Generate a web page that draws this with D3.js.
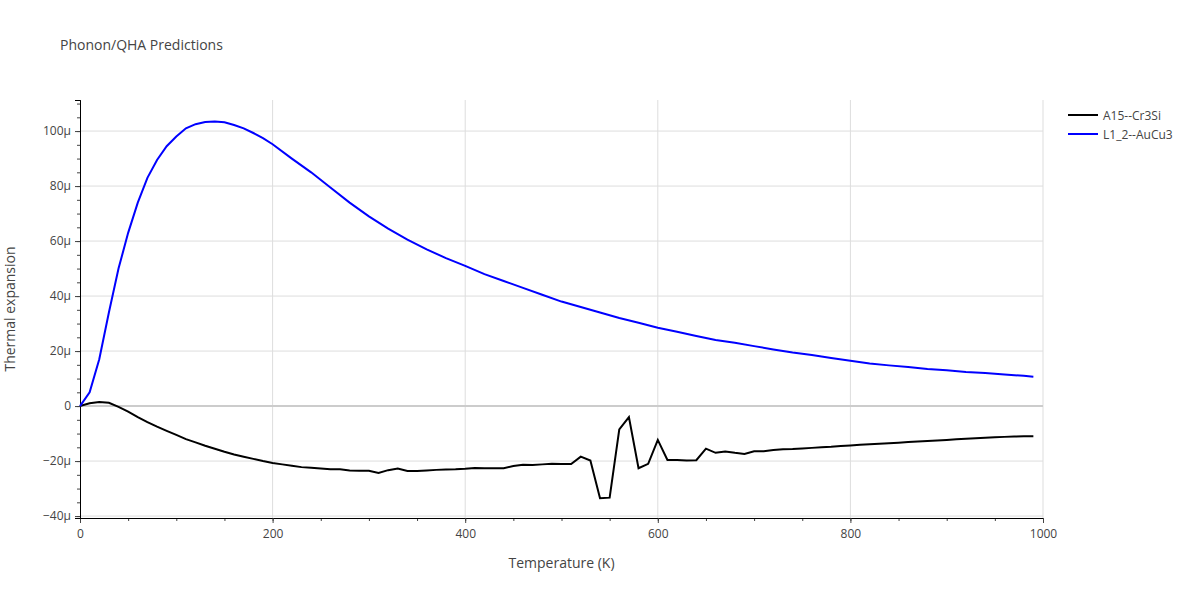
<!DOCTYPE html>
<html>
<head>
<meta charset="utf-8">
<script src="https://cdn.jsdelivr.net/npm/d3@7"></script>
<style>
  body { margin: 0; background: #fff; }
  text { font-family: "Open Sans", Arial, sans-serif; fill: #444; }
</style>
</head>
<body>
<svg id="chart" width="1200" height="600"></svg>
<script>
// A15--Cr3Si, every 10 K
const tempsCr = d3.range(0, 1000, 10);
const alphaCr = [
  0, 1, 1.5, 1.2, -0.3, -2, -4, -5.8, -7.5, -9,
  -10.5, -12, -13.2, -14.4, -15.5, -16.6, -17.6, -18.4, -19.2, -20,
  -20.7, -21.2, -21.7, -22.2, -22.4, -22.7, -23, -23, -23.4, -23.5,
  -23.5, -24.3, -23.3, -22.7, -23.6, -23.6, -23.4, -23.2, -23.1, -23,
  -22.8, -22.5, -22.6, -22.6, -22.6, -21.8, -21.3, -21.4, -21.2, -21,
  -21.1, -21.1, -18.4, -19.8, -33.5, -33.3, -8.5, -4, -22.6, -21,
  -12.3, -19.6, -19.6, -19.8, -19.7, -15.5, -17, -16.5, -17, -17.4,
  -16.4, -16.4, -16, -15.7, -15.6, -15.4, -15.2, -15, -14.8, -14.5,
  -14.3, -14.1, -13.9, -13.7, -13.5, -13.3, -13.1, -12.9, -12.7, -12.5,
  -12.3, -12.1, -11.9, -11.7, -11.5, -11.3, -11.2, -11.1, -11, -11
];

// L1_2--AuCu3
const tempsAu = [0,10,20,30,40,50,60,70,80,90,100,110,120,130,140,150,160,170,180,190,200,
  220,240,260,280,300,320,340,360,380,400,420,440,460,480,500,520,540,560,580,600,
  620,640,660,680,700,720,740,760,780,800,820,840,860,880,900,920,940,960,980,990];
const alphaAu = [0,5,17,34,50,63,74,83,89.5,94.5,98,101,102.5,103.3,103.5,103.2,102.2,101,99.3,97.4,95.2,
  90,85,79.5,74,69,64.5,60.5,57,53.8,51,48,45.5,43,40.5,38,36,34,32,30.3,28.5,
  27,25.5,24,23,21.8,20.6,19.5,18.6,17.5,16.5,15.5,14.8,14.2,13.5,13,12.4,12,11.5,11,10.7];

const series = [
  { name: "A15--Cr3Si", color: "#000000", t: tempsCr, v: alphaCr },
  { name: "L1_2--AuCu3", color: "#0000ff", t: tempsAu, v: alphaAu }
];

const xTicks = [0, 200, 400, 600, 800, 1000];
const yTicks = [-40, -20, 0, 20, 40, 60, 80, 100];

const svg = d3.select("#chart");
const pLeft = 80, pRight = 1043, pTop = 100, pBottom = 518;

const x = d3.scaleLinear().domain([0, 1000]).range([pLeft, pRight]);
const y = d3.scaleLinear().domain([-40.7, 111.3]).range([pBottom, pTop]);

// grid
svg.append("g").selectAll("line").data(xTicks.slice(1)).join("line")
  .attr("x1", d => x(d)).attr("x2", d => x(d)).attr("y1", pTop).attr("y2", pBottom)
  .attr("stroke", "#ddd");
svg.append("g").selectAll("line").data(yTicks).join("line")
  .attr("x1", pLeft).attr("x2", pRight).attr("y1", d => y(d)).attr("y2", d => y(d))
  .attr("stroke", d => d === 0 ? "#ccc" : "#ddd").attr("stroke-width", d => d === 0 ? 2 : 1);

// axes
const xAxis = d3.axisBottom(x).tickValues(xTicks).tickSize(5).tickPadding(6).tickFormat(d3.format("d"));
const xMinor = d3.axisBottom(x).tickValues(d3.range(0, 1001, 50)).tickSize(3).tickFormat("");
const yAxis = d3.axisLeft(y).tickValues(yTicks).tickSize(5).tickPadding(4)
  .tickFormat(d => d === 0 ? "0" : (d < 0 ? "\u2212" + (-d) : d) + "\u03bc");
const yMinor = d3.axisLeft(y).tickValues(d3.range(-40, 111, 5)).tickSize(3).tickFormat("");

function styleAxis(g) {
  g.select(".domain").attr("stroke", "#000");
  g.selectAll(".tick line").attr("stroke", "#444");
  g.selectAll("text").style("font-size", "12px").attr("fill", "#444");
}
svg.append("g").attr("transform", `translate(0,${pBottom})`).call(xMinor).call(styleAxis);
svg.append("g").attr("transform", `translate(0,${pBottom})`).call(xAxis).call(styleAxis);
svg.append("g").attr("transform", `translate(${pLeft},0)`).call(yMinor).call(styleAxis);
svg.append("g").attr("transform", `translate(${pLeft},0)`).call(yAxis).call(styleAxis);

// lines
const line = d3.line().x(d => x(d[0])).y(d => y(d[1]));
series.forEach(s => {
  svg.append("path").datum(s.t.map((t, i) => [t, s.v[i]]))
    .attr("d", line).attr("fill", "none").attr("stroke", s.color).attr("stroke-width", 2);
});

// titles
svg.append("text").attr("x", 60).attr("y", 50).style("font-size", "14px").text("Phonon/QHA Predictions");
svg.append("text").attr("x", (pLeft + pRight) / 2).attr("y", 568).attr("text-anchor", "middle")
  .style("font-size", "14px").text("Temperature (K)");
svg.append("text").attr("transform", `translate(15,${(pTop + pBottom) / 2}) rotate(-90)`)
  .attr("text-anchor", "middle").style("font-size", "14px").text("Thermal expansion");

// legend
const leg = svg.append("g").attr("transform", "translate(1068,115)");
series.forEach((s, i) => {
  const g = leg.append("g").attr("transform", `translate(0,${i * 19})`);
  g.append("line").attr("x1", 0).attr("x2", 30).attr("stroke", s.color).attr("stroke-width", 2);
  g.append("text").attr("x", 35).attr("y", 4.5).style("font-size", "12px").text(s.name);
});
</script>
</body>
</html>
